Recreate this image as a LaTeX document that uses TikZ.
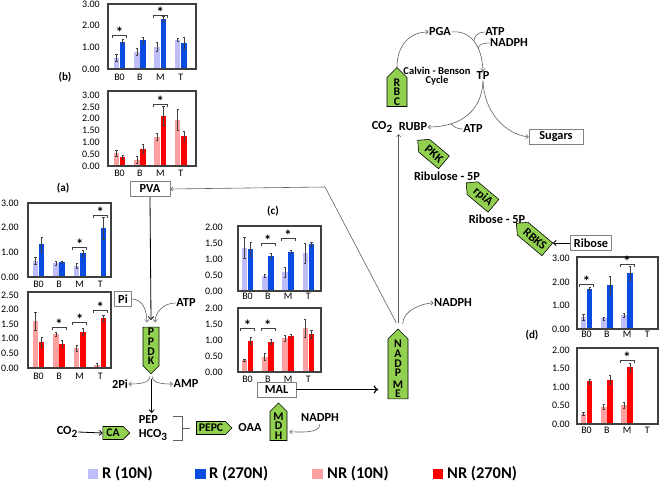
\documentclass[tikz,border=0pt]{standalone}
\usepackage{fontspec}
\setmainfont{Carlito}
\usetikzlibrary{arrows.meta,shapes.symbols}
\definecolor{lb}{RGB}{190,190,250}
\definecolor{db}{RGB}{10,75,225}
\definecolor{lr}{RGB}{255,160,160}
\definecolor{dr}{RGB}{255,0,0}
\definecolor{eg}{RGB}{146,208,80}
\definecolor{lg}{RGB}{95,95,95}
\definecolor{bxg}{RGB}{130,130,130}
\definecolor{fr}{RGB}{64,64,64}
\newcommand\sub[1]{\raisebox{-0.35ex}{\fontsize{9.5}{9}\selectfont #1}}
\newcommand\setchart[9]{\def\cN{#1}\def\cL{#2}\def\cR{#3}\def\cT{#4}\def\cZ{#5}\def\cS{#6}\def\gO{#7}\def\gS{#8}\def\cY{#9}}
\newcommand\chframe{\draw[chf] (\cL,\cT) rectangle (\cR,\cZ);}
\newcommand\yticks[1]{\foreach \v/\t [count=\k] in {#1}{\node[tkl] (\cN-y\k) at (\cY,{\cZ-\cS*\v}) {\t};}}
\newcommand\xlabs[1]{\foreach \l [count=\k from 0] in {B0,B,M,T}{\node[xl] (\cN-x\k) at ({\gO+\k*\gS},#1) {\l};}}
\newcommand\ebar[3]{\draw[errb] ({#1-1.1},{\cZ-\cS*max(#2-#3,0)}) -- ({#1+1.1},{\cZ-\cS*max(#2-#3,0)}) ({#1},{\cZ-\cS*max(#2-#3,0)}) -- ({#1},{\cZ-\cS*(#2+#3)}) ({#1-1.1},{\cZ-\cS*(#2+#3)}) -- ({#1+1.1},{\cZ-\cS*(#2+#3)});}
\newcommand\bars[3]{\foreach \i/\barA/\errA/\barB/\errB in {#3}{%
  \pgfmathsetmacro\gc{\gO+\i*\gS}%
  \fill[#1] ({\gc-5.9},\cZ) rectangle ({\gc-0.3},{\cZ-\cS*\barA});
  \fill[#2] ({\gc+0.3},\cZ) rectangle ({\gc+5.9},{\cZ-\cS*\barB});
  \ebar{\gc-3.1}{\barA}{\errA}
  \ebar{\gc+3.1}{\barB}{\errB}
}}
\newcommand\sig[2]{%
  \pgfmathsetmacro\gc{\gO+#1*\gS}%
  \draw[brk] ({\gc-7},{#2+3}) -- ({\gc-7},#2) -- ({\gc+7},#2) -- ({\gc+7},{#2+3});
  \node[sigstar] (\cN-s#1) at (\gc,{#2+3}) {*};}
\begin{document}
\begin{tikzpicture}[x=0.03cm,y=-0.03cm,
 lbl/.style={font=\fontsize{10.5}{11}\selectfont\bfseries, inner sep=0.5pt},
 box/.style={lbl, draw=bxg, line width=0.6pt, fill=white, inner xsep=3pt, inner ysep=1.5pt, minimum height=0.45cm},
 enz/.style={signal, signal from=nowhere, draw=black, line width=0.5pt, fill=eg, font=\fontsize{10}{8.3}\selectfont\bfseries, align=center, inner sep=0.8pt, signal pointer angle=90},
 renz/.style={enz, signal to=west, rotate=-40, minimum height=0.5cm, inner xsep=2.5pt, font=\fontsize{10.5}{10}\selectfont\bfseries},
 tkl/.style={font=\fontsize{8.5}{9}\selectfont, anchor=east, inner sep=0pt},
 xl/.style={font=\fontsize{8.5}{9}\selectfont, inner sep=0pt},
 chf/.style={draw=fr, line width=1pt},
 errb/.style={draw=fr, line width=0.35pt},
 brk/.style={draw=fr, line width=0.5pt},
 sigstar/.style={font=\fontsize{12.5}{12}\selectfont\bfseries, anchor=base, inner sep=0pt},
 conn/.style={draw=lg, line width=0.5pt, -{To[length=2.5pt,width=4pt]}},
 plain/.style={draw=lg, line width=0.5pt},
 blk/.style={draw=black, line width=0.7pt, -{To[length=3pt,width=5pt]}},
 heavy/.style={draw=black, line width=1pt, -{To[length=4pt,width=7pt]}},
 panel/.style={font=\fontsize{9.5}{10}\selectfont\bfseries, inner sep=0pt},
 leg/.style={font=\fontsize{14}{14}\selectfont\bfseries, anchor=west, inner sep=0pt}
]
\useasboundingbox (0,0) rectangle (660,486);
\fill[white] (0,0) rectangle (660,486);

% ---------- chart (b) top ----------
\setchart{bt}{108}{196}{4}{69}{21.67}{119.5}{20.4}{100}
\bars{lb}{db}{0/0.52/0.15/1.26/0.12, 1/0.80/0.15/1.33/0.15, 2/1.02/0.20/2.33/0.12, 3/1.35/0.08/1.20/0.28}
\chframe
\yticks{0/0.00,1/1.00,2/2.00,3/3.00}
\xlabs{77}
\sig{0}{35}\sig{2}{15}
% ---------- chart (b) bottom ----------
\setchart{bb}{108}{196}{91}{166}{23.67}{119.5}{20.4}{100}
\bars{lr}{dr}{0/0.55/0.12/0.37/0.07, 1/0.25/0.15/0.72/0.20, 2/1.22/0.15/2.12/0.40, 3/1.95/0.45/1.25/0.20}
\chframe
\yticks{0/0.00,0.5/0.50,1/1.00,1.5/1.50,2/2.00,2.5/2.50,3/3.00}
\xlabs{173}
\sig{2}{104}
% ---------- chart (a) top ----------
\setchart{at}{28}{111}{203}{277}{24.67}{38.5}{20.6}{19}
\bars{lb}{db}{0/0.66/0.13/1.32/0.30, 1/0.55/0.07/0.61/0.04, 2/0.45/0.10/0.97/0.12, 3/0.02/0.02/1.98/0.45}
\chframe
\yticks{0/0.00,1/1.00,2/2.00,3/3.00}
\xlabs{284}
\sig{2}{247}\sig{3}{215}
% ---------- chart (a) bottom ----------
\setchart{ab}{28}{111}{292}{368}{29.2}{38.5}{20.6}{19}
\bars{lr}{dr}{0/1.61/0.30/0.88/0.17, 1/1.16/0.07/0.82/0.12, 2/0.67/0.10/1.24/0.12, 3/0.10/0.08/1.70/0.10}
\chframe
\yticks{0/0.00,0.5/0.50,1/1.00,1.5/1.50,2/2.00,2.5/2.50}
\xlabs{376}
\sig{1}{327}\sig{2}{322}\sig{3}{310}
% ---------- chart (c) top ----------
\setchart{ct}{238}{321}{226}{291}{32}{247.5}{20.3}{223}
\bars{lb}{db}{0/1.35/0.33/1.30/0.22, 1/0.47/0.05/1.10/0.07, 2/0.58/0.15/1.23/0.05, 3/1.18/0.30/1.47/0.06}
\chframe
\yticks{0/0.00,0.5/0.50,1/1.00,1.5/1.50,2/2.00}
\xlabs{296}
\sig{1}{243}\sig{2}{238}
% ---------- chart (c) bottom ----------
\setchart{cb}{238}{321}{308}{372}{32}{247.5}{20.3}{223}
\bars{lr}{dr}{0/0.37/0.04/0.98/0.12, 1/0.48/0.12/0.94/0.07, 2/1.05/0.10/1.13/0.05, 3/1.37/0.28/1.18/0.12}
\chframe
\yticks{0/0.00,0.5/0.50,1/1.00,1.5/1.50,2/2.00}
\xlabs{379}
\sig{0}{328}\sig{1}{328}
% ---------- chart (d) top ----------
\setchart{dt}{577}{658}{257}{329}{23.4}{586.5}{20.3}{570}
\bars{lb}{db}{0/0.50/0.12/1.72/0.07, 1/0.45/0.06/1.87/0.37, 2/0.60/0.08/2.40/0.30}
\chframe
\yticks{0/0.00,1/1.00,2/2.00,3/3.00}
\xlabs{334}
\sig{0}{284}\sig{2}{264}
% ---------- chart (d) bottom ----------
\setchart{db}{577}{658}{348}{424}{37}{586.5}{20.3}{570}
\bars{lr}{dr}{0/0.28/0.05/1.15/0.07, 1/0.47/0.07/1.20/0.12, 2/0.50/0.08/1.53/0.12}
\chframe
\yticks{0/0.00,0.5/0.50,1/1.00,1.5/1.50,2/2.00}
\xlabs{430}
\sig{2}{360}

% panel labels
\node[panel] (pa) at (63,188) {(a)};
\node[panel] (pb) at (65,77) {(b)};
\node[panel] (pc) at (273,211) {(c)};
\node[panel] (pd) at (532,335) {(d)};

% ---------- Calvin cycle ----------
\node[enz, signal to=north, minimum width=0.6cm] (rbc) at (397,92) {R\\B\\C};
\node[lbl] (pga) at (440,32) {PGA};
\node[lbl] (atp1) at (495,32) {ATP};
\node[lbl] (nadph1) at (509,43) {NADPH};
\node[lbl, font=\fontsize{9}{7.5}\selectfont\bfseries, align=center] (cbc) at (437,76) {Calvin - Benson\\Cycle};
\node[lbl] (tp) at (483,76) {TP};
\node[lbl] (co2a) at (382,127) {CO\sub{2}};
\node[lbl] (rubp) at (413,127) {RUBP};
\node[lbl] (atp2) at (473,129) {ATP};
\node[box, minimum width=1.62cm] (sugars) at (556,137) {Sugars};
\node[renz] (pkk) at (434,154) {PKK};
\node[lbl] (ru5p) at (447,176) {Ribulose - 5P};
\node[renz] (rpia) at (483,197) {rpiA};
\node[lbl] (r5p) at (497,219) {Ribose - 5P};
\node[renz] (rbks) at (535,239) {RBKS};
\node[box] (ribose) at (591,243) {Ribose};
\coordinate (rbksend) at (553,243);

\draw[conn] (rbc.north) .. controls (397,45) and (410,32) .. (pga.west);
\draw[conn] (pga.east) .. controls (470,30) and (482,45) .. (tp.north)
  coordinate[pos=0.5] (j1) coordinate[pos=0.66] (j2);
\draw[plain] (atp1.west) .. controls +(-7,0) and +(0,-4) .. (j1);
\draw[plain] (nadph1.west) .. controls +(-7,0) and +(0,-4) .. (j2);
\draw[conn] (tp.south) .. controls (482,110) and (462,127) .. (rubp.east)
  coordinate[pos=0.75] (j3);
\draw[plain] (atp2.west) .. controls +(-6,0) and +(4,3) .. (j3);
\draw[conn] (tp.south) .. controls (484,112) and (505,134) .. (sugars.west);
\draw[blk] (ribose.west) -- (rbksend);

% ---------- C4 shuttle ----------
\node[box, minimum width=1.2cm] (pva) at (150,189) {PVA};
\node[box] (pi) at (123,299) {Pi};
\node[lbl] (atp3) at (186,303) {ATP};
\node[enz, signal to=south, minimum width=0.48cm] (ppdk) at (151,346.5) {P\\P\\D\\K};
\node[lbl] (twopi) at (120,384) {2Pi};
\node[lbl] (amp) at (186,384) {AMP};
\node[lbl, anchor=west] (pep) at (138,420) {PEP};
\node[lbl, anchor=west] (hco3) at (138,435) {HCO\sub{3}};
\node[lbl] (co2b) at (67,432) {CO\sub{2}};
\node[enz, signal to=east, minimum height=0.39cm, inner xsep=3pt] (ca) at (113,433) {CA};
\node[enz, signal to=east, minimum height=0.39cm, inner xsep=2pt] (pepc) at (211,428) {PEPC};
\node[lbl] (oaa) at (250,428) {OAA};
\node[enz, signal to=north, minimum width=0.51cm] (mdh) at (278.5,426) {M\\D\\H};
\node[lbl] (nadph2) at (320,418) {NADPH};
\node[box, minimum width=1.17cm] (mal) at (276.5,389.5) {MAL};
\node[enz, signal to=north, minimum width=0.6cm] (me) at (398,369) {N\\A\\D\\P\\[1.5pt]M\\E};
\node[lbl] (nadph3) at (453,303) {NADPH};

\draw[blk] (pva.south) -- ([yshift=6pt]ppdk.north);
\draw[conn] (pi.east) .. controls +(11,0) and +(0,-12) .. ([xshift=-3.5pt,yshift=4pt]ppdk.north);
\draw[conn] (atp3.west) .. controls +(-12,0) and +(0,-10) .. ([xshift=3.5pt,yshift=4pt]ppdk.north);
\draw[conn] ([xshift=-1pt,yshift=-2pt]ppdk.south) .. controls +(0,7) and +(9,0) .. (twopi.east);
\draw[conn] ([xshift=1pt,yshift=-2pt]ppdk.south) .. controls +(0,7) and +(-9,0) .. (amp.west);
\draw[blk] ([xshift=0.5pt,yshift=-4pt]ppdk.south) -- ([xshift=0.5pt,yshift=2pt]ppdk.south |- pep.north);
\draw[blk] (co2b.east) -- (ca.west);
\draw[plain] (173,416) -- (182,416) -- (182,440) -- (173,440) (182,428) -- (190,428);
\draw[conn] ([yshift=-1pt]nadph2.south) .. controls +(0,10) and +(10,0) .. ([xshift=2pt,yshift=-5pt]mdh.east);
\draw[heavy] (mal.east) -- ([xshift=-8pt]mal.east -| me.west);
\draw[conn] ([xshift=-1.5pt,yshift=5pt]me.north) -- (325,187) -- (pva.east);
\draw[conn] ([xshift=0.5pt,yshift=5pt]me.north) -- ([xshift=0.5pt,yshift=-2pt]me.north |- rubp.south);
\draw[conn] ([xshift=4pt,yshift=4pt]me.north) .. controls +(0,-14) and +(-10,0) .. (nadph3.west);

% ---------- legend ----------
\fill[lb] (88,469) rectangle (98,479);
\node[leg] (l1) at (102,474) {R (10N)};
\fill[db] (195,469) rectangle (206,479);
\node[leg] (l2) at (209,474) {R (270N)};
\fill[lr] (312,469) rectangle (323,479);
\node[leg] (l3) at (327,474) {NR (10N)};
\fill[dr] (433,469) rectangle (443,479);
\node[leg] (l4) at (447,474) {NR (270N)};
\end{tikzpicture}
\end{document}
